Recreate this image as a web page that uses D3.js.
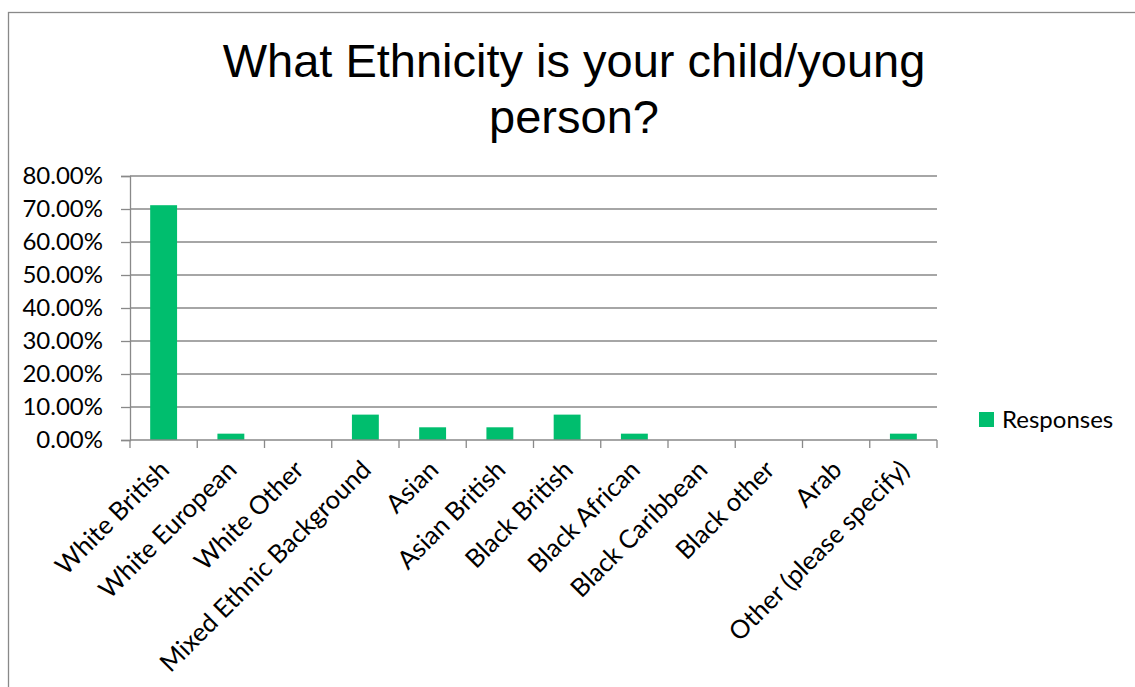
<!DOCTYPE html>
<html>
<head>
<meta charset="utf-8">
<script src="https://cdn.jsdelivr.net/npm/d3@7"></script>
<style>
  html, body { margin: 0; padding: 0; background: #fff; }
  svg { display: block; }
</style>
</head>
<body>
<svg id="chart" width="1135" height="687"></svg>
<script>
const categories = ["White British", "White European", "White Other", "Mixed Ethnic Background", "Asian", "Asian British", "Black British", "Black African", "Black Caribbean", "Black other", "Arab", "Other (please specify)"];
const responses = [71.15, 1.92, 0, 7.69, 3.85, 3.85, 7.69, 1.92, 0, 0, 0, 1.92];
const yTicks = [0, 10, 20, 30, 40, 50, 60, 70, 80];
const titleLines = ["What Ethnicity is your child/young", "person?"];
const seriesName = "Responses";

const svg = d3.select("#chart");
const W = 1135, H = 687;
const plot = { left: 130, right: 937, top: 176, bottom: 440 };
const labelFont = "Lato, 'Open Sans', sans-serif";
const labelSize = 24;
const xLabelSize = 25.5;
const gridColor = "#898989";
const barColor = "#00BE6E";

svg.append("rect").attr("width", W).attr("height", H).attr("fill", "#fff");
svg.append("rect")
  .attr("x", 8.5).attr("y", 12.5)
  .attr("width", W + 20).attr("height", H + 20)
  .attr("fill", "none").attr("stroke", gridColor).attr("stroke-width", 1.3);

// Title
svg.append("text")
  .attr("x", 574).attr("y", 77)
  .attr("text-anchor", "middle")
  .style("font-family", "'Liberation Sans', Arial, sans-serif")
  .style("font-size", "47px")
  .attr("fill", "#000")
  .selectAll("tspan").data(titleLines).join("tspan")
  .attr("x", 574).attr("dy", (d, i) => i === 0 ? 0 : 56)
  .text(d => d);

const x = d3.scaleBand().domain(categories).range([plot.left, plot.right])
  .paddingInner(0.6).paddingOuter(0.3);
const y = d3.scaleLinear().domain([0, 80]).range([plot.bottom, plot.top]);

// Gridlines
svg.append("g").selectAll("line").data(yTicks.filter(d => d > 0)).join("line")
  .attr("x1", plot.left).attr("x2", plot.right)
  .attr("y1", d => y(d)).attr("y2", d => y(d))
  .attr("stroke", gridColor).attr("stroke-width", 1.3);

// Y axis
const yAxis = svg.append("g").attr("transform", `translate(${plot.left},0)`)
  .call(d3.axisLeft(y).tickValues(yTicks).tickSize(9).tickPadding(18)
    .tickFormat(d => d3.format(".2f")(d) + "%"));
yAxis.select(".domain").attr("stroke", gridColor).attr("stroke-width", 1.3);
yAxis.selectAll(".tick line").attr("stroke", gridColor).attr("stroke-width", 1.3);
yAxis.selectAll(".tick text")
  .style("font-family", labelFont).style("font-size", labelSize + "px").attr("fill", "#000");

// Bars
svg.append("g").selectAll("rect").data(categories).join("rect")
  .attr("x", d => x(d))
  .attr("width", x.bandwidth())
  .attr("y", (d, i) => y(responses[i]))
  .attr("height", (d, i) => y(0) - y(responses[i]))
  .attr("fill", barColor);

// X axis
const step = x.step();
const xAxisG = svg.append("g").attr("transform", `translate(0,${plot.bottom})`);
xAxisG.append("line").attr("x1", plot.left).attr("x2", plot.right)
  .attr("y1", 0).attr("y2", 0).attr("stroke", gridColor).attr("stroke-width", 1.3);
const boundaries = d3.range(categories.length + 1).map(i => plot.left + i * step);
xAxisG.selectAll("line.tk").data(boundaries).join("line").attr("class", "tk")
  .attr("x1", d => d).attr("x2", d => d).attr("y1", 0).attr("y2", 8)
  .attr("stroke", gridColor).attr("stroke-width", 1.3);
xAxisG.selectAll("text").data(categories).join("text")
  .attr("transform", d => `translate(${x(d) + x.bandwidth() / 2 + 1},${25}) rotate(-45)`)
  .attr("text-anchor", "end")
  .attr("dy", "0.35em")
  .style("font-family", labelFont).style("font-size", xLabelSize + "px")
  .attr("fill", "#000")
  .text(d => d);

// Legend
const lg = svg.append("g").attr("transform", "translate(979,412)");
lg.append("rect").attr("width", 15).attr("height", 15).attr("fill", barColor);
lg.append("text").attr("x", 23).attr("y", 7.5).attr("dy", "0.35em")
  .style("font-family", labelFont).style("font-size", labelSize + "px")
  .attr("fill", "#000").text(seriesName);
</script>
</body>
</html>
